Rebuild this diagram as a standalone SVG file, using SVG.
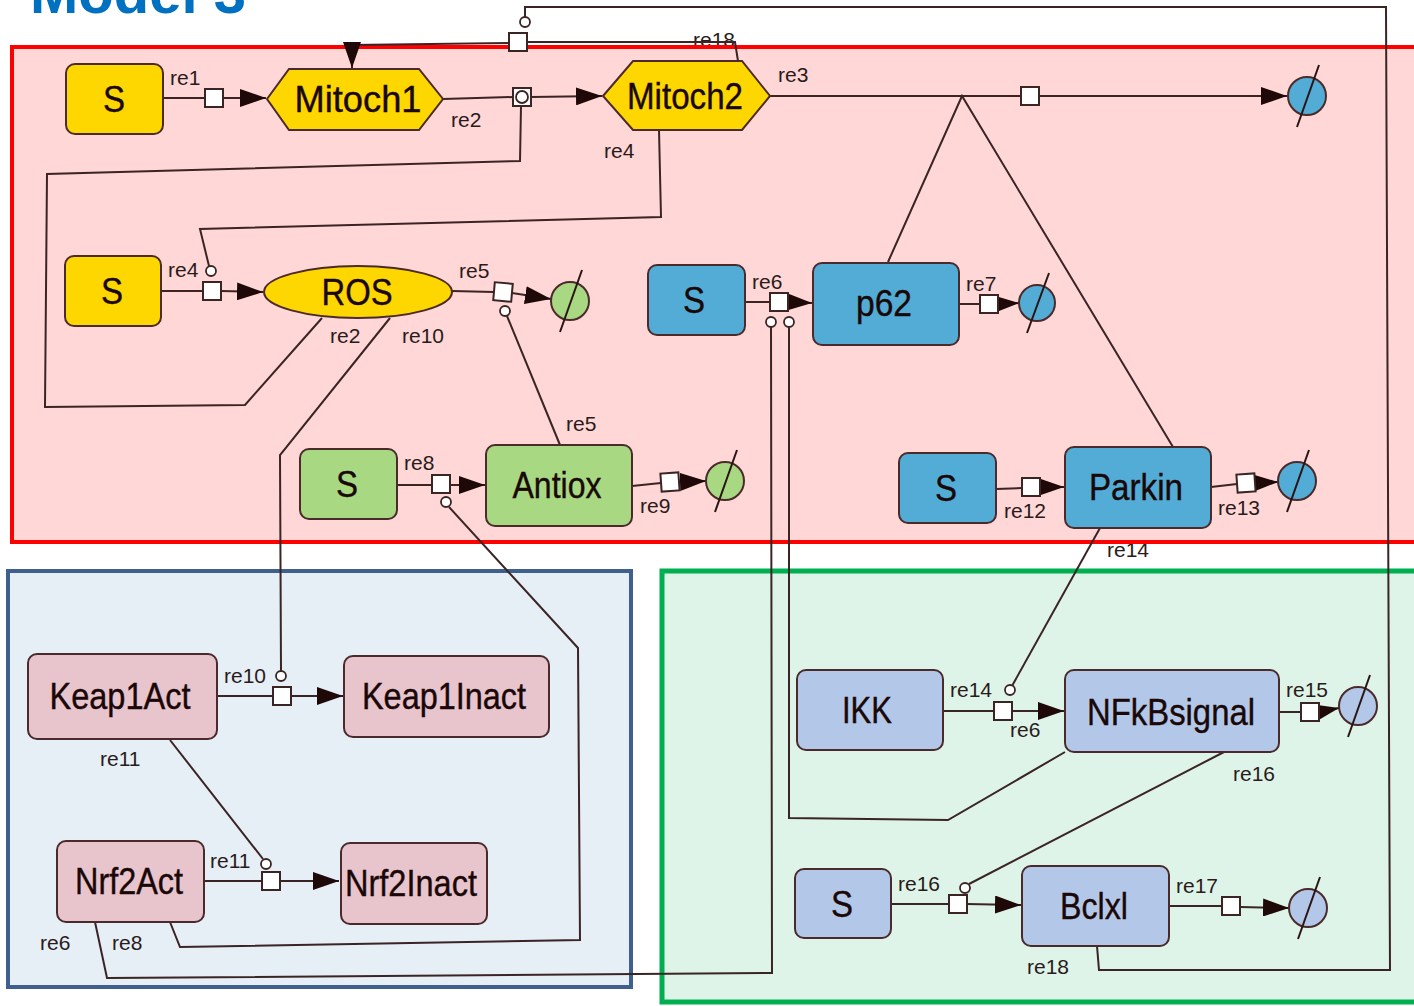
<svg xmlns="http://www.w3.org/2000/svg" width="1414" height="1006" viewBox="0 0 1414 1006">
<style>
.ln{fill:none;stroke:#3a2424;stroke-width:2}
.sq{fill:#fff;stroke:#3a2424;stroke-width:2}
.mc{fill:#fff;stroke:#3a2424;stroke-width:1.8}
.nd{stroke:#4a2a2a;stroke-width:2}
.y{fill:#FFD700}.g{fill:#A8D882}.b{fill:#52ACD6}.lb{fill:#B3C8E8}.pk{fill:#E8C4CC}
.nl{font-family:"Liberation Sans",Arial,sans-serif;font-size:37px;fill:#1a0808;text-anchor:middle;stroke:#1a0808;stroke-width:0.4}
.rl{font-family:"Liberation Sans",Arial,sans-serif;font-size:21px;fill:#2a1a1a}
.sl{stroke:#2a1414;stroke-width:2}
</style>
<defs>
<marker id="ar" viewBox="0 0 26 18" refX="26" refY="9" markerWidth="26" markerHeight="18" markerUnits="userSpaceOnUse" orient="auto">
<path d="M0,0 L26,9 L0,18 z" fill="#1e0808"/>
</marker>
</defs>
<rect width="1414" height="1006" fill="#fff"/>
<text x="30" y="13" font-family="Liberation Sans,Arial,sans-serif" font-weight="bold" font-size="58" fill="#0070C0">Model 3</text>
<g id="labels-under">
<text class="rl" x="693" y="47">re18</text>
<text class="rl" x="1107" y="557">re14</text>
</g>
<g id="compartments">
<rect x="12" y="47" width="1420" height="495" fill="#FFD7D7" stroke="#FF0000" stroke-width="4"/>
<rect x="8" y="571" width="623" height="416" fill="#E6EEF6" stroke="#3F5F8F" stroke-width="4"/>
<rect x="662" y="571" width="770" height="431" fill="#DFF4E8" stroke="#00B050" stroke-width="5"/>
</g>
<g id="connectors">
<path class="ln" d="M163,98 L205,98"/><path class="ln" d="M223,98 L266,98" marker-end="url(#ar)"/>
<rect class="sq" x="205" y="89" width="18" height="18"/>
<text class="rl" x="170" y="85">re1</text>
<path class="ln" d="M443,99 L513,97"/><path class="ln" d="M531,97 L602,96" marker-end="url(#ar)"/>
<path class="ln" d="M521,106 L520,161 L47,174 L45,407 L245,405 L322,318"/>
<rect class="sq" x="513" y="88" width="18" height="18"/><circle class="mc" cx="522" cy="97" r="6"/>
<text class="rl" x="451" y="127">re2</text>
<text class="rl" x="330" y="343">re2</text>
<path class="ln" d="M770,96 L1021,96"/><path class="ln" d="M1039,96 L1287,96" marker-end="url(#ar)"/>
<path class="ln" d="M888,262 L962,96 L1173,447"/>
<rect class="sq" x="1021" y="87" width="18" height="18"/>
<text class="rl" x="778" y="82">re3</text>
<path class="ln" d="M659,130 L661,217 L200,229 L209,266"/>
<circle class="mc" cx="211" cy="271" r="5"/>
<path class="ln" d="M161,291 L203,291"/><path class="ln" d="M221,291 L263,292" marker-end="url(#ar)"/>
<rect class="sq" x="203" y="282" width="18" height="18"/>
<text class="rl" x="604" y="158">re4</text>
<text class="rl" x="168" y="277">re4</text>
<path class="ln" d="M452,291 L494,292"/><path class="ln" d="M512,293 L551,299" marker-end="url(#ar)"/>
<path class="ln" d="M507,316 L560,445"/>
<rect class="sq" x="494" y="283" width="18" height="18" transform="rotate(5 503 292)"/>
<circle class="mc" cx="505" cy="311" r="5"/>
<text class="rl" x="459" y="278">re5</text>
<text class="rl" x="566" y="431">re5</text>
<path class="ln" d="M745,302 L770,302"/><path class="ln" d="M788,302 L812,303" marker-end="url(#ar)"/>
<path class="ln" d="M95,922 L107,978 L772,973 L771,327"/>
<path class="ln" d="M789,327 L789,818 L948,820 L1065,752"/>
<rect class="sq" x="770" y="293" width="18" height="18"/>
<circle class="mc" cx="771" cy="322" r="5"/><circle class="mc" cx="789" cy="322" r="5"/>
<text class="rl" x="752" y="289">re6</text>
<text class="rl" x="40" y="950">re6</text>
<text class="rl" x="1010" y="737">re6</text>
<path class="ln" d="M959,304 L980,304"/><path class="ln" d="M998,304 L1019,303" marker-end="url(#ar)"/>
<rect class="sq" x="980" y="295" width="18" height="18"/>
<text class="rl" x="966" y="291">re7</text>
<path class="ln" d="M397,485 L432,485"/><path class="ln" d="M450,485 L485,485" marker-end="url(#ar)"/>
<path class="ln" d="M449,507 L578,648 L580,940 L180,947 L170,922"/>
<rect class="sq" x="432" y="475" width="18" height="18"/>
<circle class="mc" cx="446" cy="502" r="5"/>
<text class="rl" x="404" y="470">re8</text>
<text class="rl" x="112" y="950">re8</text>
<path class="ln" d="M632,486 L661,483"/><path class="ln" d="M679,482 L706,481" marker-end="url(#ar)"/>
<rect class="sq" x="661" y="473" width="18" height="18" transform="rotate(-4 670 482)"/>
<text class="rl" x="640" y="513">re9</text>
<path class="ln" d="M390,318 L280,455 L281,671"/>
<circle class="mc" cx="281" cy="676" r="5"/>
<path class="ln" d="M217,696 L273,696"/><path class="ln" d="M291,696 L343,696" marker-end="url(#ar)"/>
<rect class="sq" x="273" y="687" width="18" height="18"/>
<text class="rl" x="402" y="343">re10</text>
<text class="rl" x="224" y="683">re10</text>
<path class="ln" d="M170,740 L263,859"/>
<circle class="mc" cx="266" cy="864" r="5"/>
<path class="ln" d="M204,881 L262,881"/><path class="ln" d="M280,881 L339,881" marker-end="url(#ar)"/>
<rect class="sq" x="262" y="872" width="18" height="18"/>
<text class="rl" x="100" y="766">re11</text>
<text class="rl" x="210" y="868">re11</text>
<path class="ln" d="M996,489 L1022,488"/><path class="ln" d="M1040,487 L1064,487" marker-end="url(#ar)"/>
<rect class="sq" x="1022" y="478" width="18" height="18"/>
<text class="rl" x="1004" y="518">re12</text>
<path class="ln" d="M1211,487 L1237,484"/><path class="ln" d="M1255,483 L1278,482" marker-end="url(#ar)"/>
<rect class="sq" x="1237" y="474" width="18" height="18" transform="rotate(-4 1246 483)"/>
<text class="rl" x="1218" y="515">re13</text>
<path class="ln" d="M1100,528 L1012,686"/>
<circle class="mc" cx="1010" cy="690" r="5"/>
<path class="ln" d="M943,711 L994,711"/><path class="ln" d="M1012,711 L1064,711" marker-end="url(#ar)"/>
<rect class="sq" x="994" y="702" width="18" height="18"/>
<text class="rl" x="950" y="697">re14</text>
<path class="ln" d="M1279,712 L1301,712"/><path class="ln" d="M1319,712 L1339,708" marker-end="url(#ar)"/>
<rect class="sq" x="1301" y="703" width="18" height="18"/>
<text class="rl" x="1286" y="697">re15</text>
<path class="ln" d="M1224,752 L969,884"/>
<circle class="mc" cx="965" cy="888" r="5"/>
<path class="ln" d="M891,904 L949,904"/><path class="ln" d="M967,904 L1021,905" marker-end="url(#ar)"/>
<rect class="sq" x="949" y="895" width="18" height="18"/>
<text class="rl" x="1233" y="781">re16</text>
<text class="rl" x="898" y="891">re16</text>
<path class="ln" d="M1169,906 L1222,906"/><path class="ln" d="M1240,907 L1289,908" marker-end="url(#ar)"/>
<rect class="sq" x="1222" y="897" width="18" height="18"/>
<text class="rl" x="1176" y="893">re17</text>
<path class="ln" d="M1097,946 L1099,970 L1390,970 L1386,7 L525,7 L525,17"/>
<circle class="mc" cx="525" cy="22" r="5"/>
<path class="ln" d="M738,61 L735,42 L527,42"/>
<path class="ln" d="M509,43 L352,45 L352,68" marker-end="url(#ar)"/>
<rect class="sq" x="509" y="33" width="18" height="18"/>
<text class="rl" x="1027" y="974">re18</text>
</g>
<g id="degradations">
<g id="deg-re3"><circle class="nd b" cx="1307" cy="96" r="19"/><line class="sl" x1="1297" y1="127" x2="1319" y2="65"/></g>
<g id="deg-re5"><circle class="nd g" cx="570" cy="301" r="19"/><line class="sl" x1="560" y1="332" x2="582" y2="270"/></g>
<g id="deg-re7"><circle class="nd b" cx="1037" cy="303" r="18"/><line class="sl" x1="1027" y1="333" x2="1049" y2="273"/></g>
<g id="deg-re9"><circle class="nd g" cx="725" cy="481" r="19"/><line class="sl" x1="715" y1="512" x2="737" y2="450"/></g>
<g id="deg-re13"><circle class="nd b" cx="1297" cy="481" r="19"/><line class="sl" x1="1287" y1="512" x2="1309" y2="450"/></g>
<g id="deg-re15"><circle class="nd lb" cx="1358" cy="706" r="19"/><line class="sl" x1="1348" y1="737" x2="1370" y2="675"/></g>
<g id="deg-re17"><circle class="nd lb" cx="1308" cy="908" r="19"/><line class="sl" x1="1298" y1="939" x2="1320" y2="877"/></g>
</g>
<g id="S1"><rect class="nd y" x="66" y="64" width="97" height="70" rx="9"/><text class="nl" x="114" y="112" textLength="22" lengthAdjust="spacingAndGlyphs">S</text></g>
<g id="Mitoch1"><polygon class="nd y" points="267,99 289,69 419,69 443,99 419,130 289,130"/><text class="nl" x="358" y="112" textLength="127" lengthAdjust="spacingAndGlyphs">Mitoch1</text></g>
<g id="Mitoch2"><polygon class="nd y" points="603,96 633,61 742,61 770,96 742,130 633,130"/><text class="nl" x="685" y="109" textLength="116" lengthAdjust="spacingAndGlyphs">Mitoch2</text></g>
<g id="S2"><rect class="nd y" x="65" y="256" width="96" height="70" rx="9"/><text class="nl" x="112" y="304" textLength="22" lengthAdjust="spacingAndGlyphs">S</text></g>
<g id="ROS"><ellipse class="nd y" cx="358" cy="292" rx="94" ry="26"/><text class="nl" x="357" y="305" textLength="71" lengthAdjust="spacingAndGlyphs">ROS</text></g>
<g id="S3"><rect class="nd b" x="648" y="265" width="97" height="70" rx="9"/><text class="nl" x="694" y="313" textLength="22" lengthAdjust="spacingAndGlyphs">S</text></g>
<g id="p62"><rect class="nd b" x="813" y="263" width="146" height="82" rx="9"/><text class="nl" x="884" y="316" textLength="56" lengthAdjust="spacingAndGlyphs">p62</text></g>
<g id="S4"><rect class="nd g" x="300" y="449" width="97" height="70" rx="9"/><text class="nl" x="347" y="497" textLength="22" lengthAdjust="spacingAndGlyphs">S</text></g>
<g id="Antiox"><rect class="nd g" x="486" y="445" width="146" height="81" rx="9"/><text class="nl" x="557" y="498" textLength="89" lengthAdjust="spacingAndGlyphs">Antiox</text></g>
<g id="S5"><rect class="nd b" x="899" y="453" width="97" height="70" rx="9"/><text class="nl" x="946" y="501" textLength="22" lengthAdjust="spacingAndGlyphs">S</text></g>
<g id="Parkin"><rect class="nd b" x="1065" y="447" width="146" height="81" rx="9"/><text class="nl" x="1136" y="500" textLength="94" lengthAdjust="spacingAndGlyphs">Parkin</text></g>
<g id="Keap1Act"><rect class="nd pk" x="28" y="654" width="189" height="85" rx="9"/><text class="nl" x="120" y="709" textLength="141" lengthAdjust="spacingAndGlyphs">Keap1Act</text></g>
<g id="Keap1Inact"><rect class="nd pk" x="344" y="656" width="205" height="81" rx="9"/><text class="nl" x="444" y="709" textLength="164" lengthAdjust="spacingAndGlyphs">Keap1Inact</text></g>
<g id="Nrf2Act"><rect class="nd pk" x="57" y="841" width="147" height="81" rx="9"/><text class="nl" x="129" y="894" textLength="108" lengthAdjust="spacingAndGlyphs">Nrf2Act</text></g>
<g id="Nrf2Inact"><rect class="nd pk" x="341" y="843" width="146" height="81" rx="9"/><text class="nl" x="411" y="896" textLength="132" lengthAdjust="spacingAndGlyphs">Nrf2Inact</text></g>
<g id="IKK"><rect class="nd lb" x="797" y="670" width="146" height="80" rx="9"/><text class="nl" x="867" y="723" textLength="50" lengthAdjust="spacingAndGlyphs">IKK</text></g>
<g id="NFkBsignal"><rect class="nd lb" x="1065" y="670" width="214" height="82" rx="9"/><text class="nl" x="1171" y="725" textLength="168" lengthAdjust="spacingAndGlyphs">NFkBsignal</text></g>
<g id="S6"><rect class="nd lb" x="795" y="869" width="96" height="69" rx="9"/><text class="nl" x="842" y="917" textLength="22" lengthAdjust="spacingAndGlyphs">S</text></g>
<g id="Bclxl"><rect class="nd lb" x="1022" y="866" width="147" height="80" rx="9"/><text class="nl" x="1094" y="919" textLength="68" lengthAdjust="spacingAndGlyphs">Bclxl</text></g>
</svg>
